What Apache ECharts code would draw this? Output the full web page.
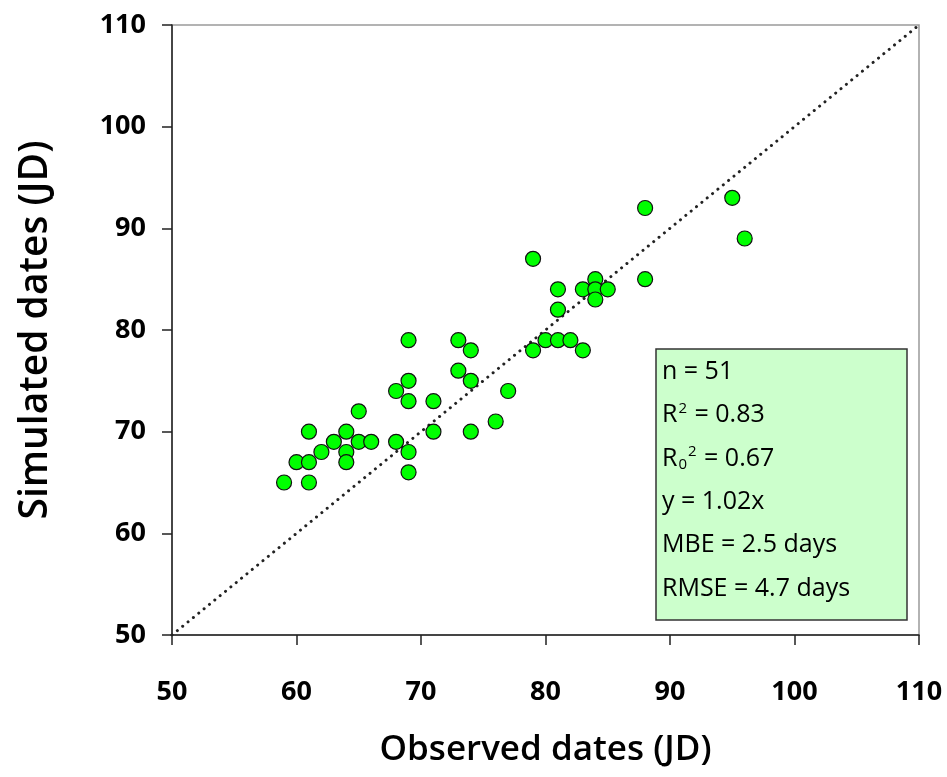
<!DOCTYPE html>
<html>
<head>
<meta charset="utf-8">
<title>Observed vs simulated dates</title>
<script src="https://cdn.jsdelivr.net/npm/echarts@6/dist/echarts.min.js"></script>
<style>
  html, body { margin: 0; padding: 0; background: #fff; }
  #chart { width: 947px; height: 777px; }
</style>
</head>
<body>
<div id="chart"></div>
<script>
// Observed (x) and simulated (y) dates, in Julian days
const observed = [59, 60, 61, 61, 61, 62, 63, 64, 64, 64, 65, 65, 66, 68, 68, 69, 69, 69, 69, 69,
                  71, 71, 73, 73, 74, 74, 74, 76, 77, 79, 79, 80, 81, 81, 81, 82, 83, 83, 84, 84,
                  84, 85, 88, 88, 95, 96];
const simulated = [65, 67, 67, 65, 70, 68, 69, 70, 68, 67, 72, 69, 69, 74, 69, 79, 75, 73, 68, 66,
                   73, 70, 79, 76, 78, 75, 70, 71, 74, 87, 78, 79, 79, 82, 84, 79, 78, 84, 85, 84,
                   83, 84, 92, 85, 93, 89];
// 1:1 reference line
const oneToOne = [[50, 50], [110, 110]];
// Axis settings
const axisMin = 50, axisMax = 110, axisStep = 10;
// Fit statistics shown in the box
const stats = {
  n: '51', r2: '0.83', r02: '0.67', slope: '1.02', mbe: '2.5', rmse: '4.7'
};

const points = observed.map((v, i) => [v, simulated[i]]);

const FONT = '"Open Sans", "DejaVu Sans", sans-serif';
const chart = echarts.init(document.getElementById('chart'), null, { renderer: 'canvas' });

const axisCommon = {
  type: 'value',
  min: axisMin,
  max: axisMax,
  interval: axisStep,
  splitLine: { show: false },
  axisLine: { show: true, onZero: false, lineStyle: { color: '#222', width: 1.5 } },
  axisTick: { show: true, length: 10, lineStyle: { color: '#222', width: 1.5 } },
  axisLabel: { color: '#000', fontFamily: FONT, fontSize: 27, fontWeight: 'bold' },
  nameLocation: 'middle',
  nameTextStyle: { color: '#000', fontFamily: FONT, fontWeight: 600 }
};

// Stats box layout
const boxLeft = 656, boxTop = 349, boxW = 251, boxH = 271;
const firstLine = 372, lineStep = 43.3;
const statLines = [
  '{t|n = ' + stats.n + '}',
  '{t|R}{sup|2}{t| = ' + stats.r2 + '}',
  '{t|R}{sub|0}{sup|2}{t| = ' + stats.r02 + '}',
  '{t|y = ' + stats.slope + 'x}',
  '{t|MBE = ' + stats.mbe + ' days}',
  '{t|RMSE = ' + stats.rmse + ' days}'
];
const rich = {
  t: { fontFamily: FONT, fontSize: 25, color: '#000', lineHeight: 32, verticalAlign: 'middle' },
  sup: { fontFamily: FONT, fontSize: 15, color: '#000', lineHeight: 32, verticalAlign: 'middle', padding: [0, 1, 14, 1] },
  sub: { fontFamily: FONT, fontSize: 15, color: '#000', lineHeight: 32, verticalAlign: 'middle', padding: [12, 0, 0, 1] }
};

chart.setOption({
  animation: false,
  backgroundColor: '#fff',
  grid: {
    left: 172, right: 28, top: 25, bottom: 142,
    show: true, borderColor: '#9a9a9a', borderWidth: 1.5, backgroundColor: 'transparent'
  },
  xAxis: Object.assign({}, axisCommon, {
    name: 'Observed dates (JD)',
    nameGap: 98,
    nameTextStyle: Object.assign({}, axisCommon.nameTextStyle, { fontSize: 35 }),
    axisLabel: Object.assign({}, axisCommon.axisLabel, { margin: 44 })
  }),
  yAxis: Object.assign({}, axisCommon, {
    name: 'Simulated dates (JD)',
    nameGap: 117,
    nameTextStyle: Object.assign({}, axisCommon.nameTextStyle, { fontSize: 39 }),
    axisLabel: Object.assign({}, axisCommon.axisLabel, { margin: 26 })
  }),
  series: [
    {
      type: 'line',
      data: oneToOne,
      symbol: 'none',
      silent: true,
      z: 1,
      lineStyle: { color: '#222', width: 3, type: [0.01, 6.9], cap: 'round' }
    },
    {
      type: 'scatter',
      data: points,
      symbol: 'circle',
      symbolSize: 15,
      z: 3,
      itemStyle: { color: '#00ff00', borderColor: '#111', borderWidth: 1.2, opacity: 1 }
    }
  ],
  graphic: [
    {
      type: 'rect',
      x: boxLeft, y: boxTop,
      shape: { width: boxW, height: boxH },
      style: { fill: '#ccffcc', stroke: '#333', lineWidth: 1.5 },
      z: 10
    }
  ].concat(statLines.map((s, i) => ({
    type: 'text',
    x: boxLeft + 6,
    y: firstLine + i * lineStep,
    z: 11,
    style: { text: s, rich: rich, verticalAlign: 'middle', align: 'left' }
  })))
});
</script>
</body>
</html>
